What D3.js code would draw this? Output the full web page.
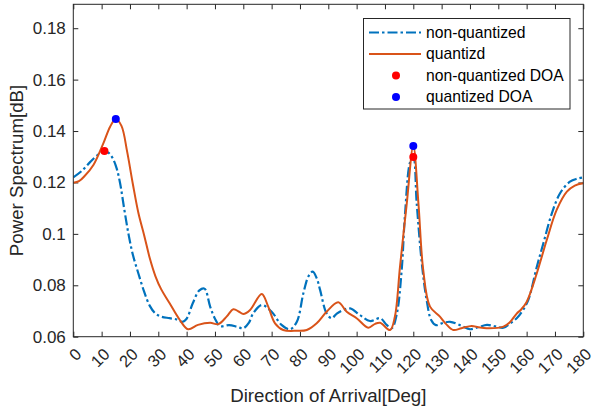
<!DOCTYPE html>
<html>
<head>
<meta charset="utf-8">
<script src="https://cdn.jsdelivr.net/npm/d3@7"></script>
<style>
  html, body { margin: 0; padding: 0; background: #fff; }
  svg { display: block; font-family: "Liberation Sans", Arial, sans-serif; }
</style>
</head>
<body>
<svg id="chart" width="594" height="409"></svg>
<script>
// Direction-of-arrival spectrum, non-quantized vs quantized
const nonQuantDeg = [0, 3, 6, 9, 11, 12.5, 14, 15.3, 16.5, 18, 19.5, 21, 23, 25, 27, 29, 31, 34, 36.5, 38.5, 40, 42.2, 44.5, 46.3, 48.3, 50, 51.8, 55, 58, 60, 62, 63.5, 66.5, 70, 73.5, 76.5, 78.9, 81.2, 83, 84.5, 86, 87.1, 89.4, 91.2, 93, 95.3, 97.7, 101.2, 104.7, 108.3, 110.6, 112.4, 114.2, 115.9, 117.1, 118.9, 120, 121.2, 123, 124.7, 126.3, 128, 130, 133, 137, 140, 143, 146, 149, 151.8, 154, 156.5, 158.5, 160.6, 163.6, 165.9, 168.9, 171.8, 175.3, 178, 180];
const nonQuantPow = [0.1220, 0.1245, 0.1280, 0.1310, 0.1322, 0.1315, 0.1292, 0.1255, 0.1198, 0.1095, 0.0998, 0.0920, 0.0845, 0.0775, 0.0720, 0.0690, 0.0678, 0.0672, 0.0667, 0.0658, 0.0670, 0.0731, 0.0780, 0.0787, 0.0717, 0.0670, 0.0641, 0.0645, 0.0638, 0.0633, 0.0655, 0.0691, 0.0723, 0.0697, 0.0646, 0.0629, 0.0658, 0.0769, 0.0835, 0.0853, 0.0825, 0.0782, 0.0691, 0.0672, 0.0690, 0.0704, 0.0710, 0.0684, 0.0661, 0.0672, 0.0646, 0.0633, 0.0690, 0.0860, 0.1080, 0.1280, 0.1299, 0.1119, 0.0886, 0.0743, 0.0665, 0.0645, 0.0652, 0.0658, 0.0642, 0.0629, 0.0637, 0.0646, 0.0640, 0.0635, 0.0650, 0.0672, 0.0700, 0.0743, 0.0872, 0.0963, 0.1080, 0.1158, 0.1203, 0.1215, 0.1220];

const quantDeg = [0, 2, 4, 7.1, 10.6, 13, 15, 17, 19, 21, 23, 25, 27, 29, 31, 34, 37.6, 40.5, 44, 48.3, 51.2, 54.1, 56.5, 58.5, 60, 62.4, 66.5, 68.8, 71.2, 74.1, 78.9, 82.4, 85.9, 89.4, 93.5, 96.5, 100, 104.1, 106.5, 108.3, 111.8, 113.5, 115.3, 117.7, 120, 121.8, 123.5, 125.9, 129.4, 131.5, 134.1, 137, 140.6, 143, 145.9, 151.8, 154, 156.5, 158, 160, 163.6, 167.1, 170.6, 174.2, 177, 180];
const quantPow = [0.1199, 0.1205, 0.1225, 0.1268, 0.1352, 0.1417, 0.1447, 0.1420, 0.1320, 0.1195, 0.1080, 0.0995, 0.0905, 0.0835, 0.0785, 0.0730, 0.0665, 0.0629, 0.0646, 0.0654, 0.0649, 0.0678, 0.0707, 0.0697, 0.0688, 0.0704, 0.0766, 0.0717, 0.0652, 0.0626, 0.0623, 0.0626, 0.0652, 0.0697, 0.0734, 0.0697, 0.0672, 0.0635, 0.0650, 0.0654, 0.0626, 0.0678, 0.0872, 0.1119, 0.1342, 0.1120, 0.0860, 0.0717, 0.0678, 0.0650, 0.0626, 0.0633, 0.0642, 0.0637, 0.0633, 0.0639, 0.0655, 0.0690, 0.0705, 0.0735, 0.0847, 0.0976, 0.1093, 0.1164, 0.1188, 0.1197];

// Estimated directions of arrival (peaks)
const nonQuantDoaDeg = [11, 120];
const nonQuantDoaPow = [0.1322, 0.1299];
const quantDoaDeg = [15, 120];
const quantDoaPow = [0.1447, 0.1342];

const xTicks = [0, 10, 20, 30, 40, 50, 60, 70, 80, 90, 100, 110, 120, 130, 140, 150, 160, 170, 180];
const yTicks = [0.06, 0.08, 0.1, 0.12, 0.14, 0.16, 0.18];
const yTickLabels = ["0.06", "0.08", "0.1", "0.12", "0.14", "0.16", "0.18"];

const legendLabels = ["non-quantized", "quantizd", "non-quantized DOA", "quantized DOA"];

const colors = {
  nonQuant: "#0072BD",
  quant: "#D95319",
  nonQuantDoa: "#FF0000",
  quantDoa: "#0000FF",
  axis: "#262626"
};

const margin = { left: 73.3, right: 594 - 583.3, top: 4.3, bottom: 409 - 336.7 };
const W = 594, H = 409;

const svg = d3.select("#chart");

const x = d3.scaleLinear().domain([0, 180]).range([margin.left, W - margin.right]);
const y = d3.scaleLinear().domain([0.06, 0.1893]).range([H - margin.bottom, margin.top]);

const x0 = x.range()[0], x1 = x.range()[1];
const y0 = y.range()[0], y1 = y.range()[1];

svg.append("defs").append("clipPath").attr("id", "plotClip")
  .append("rect").attr("x", x0).attr("y", y1).attr("width", x1 - x0).attr("height", y0 - y1);

// Axes with inward ticks on all four sides
const tickLen = 5;
const bottomAxis = d3.axisBottom(x).tickValues(xTicks).tickSizeInner(-tickLen).tickSizeOuter(0).tickFormat("");
const topAxis = d3.axisTop(x).tickValues(xTicks).tickSizeInner(-tickLen).tickSizeOuter(0).tickFormat("");
const leftAxis = d3.axisLeft(y).tickValues(yTicks).tickSizeInner(-tickLen).tickSizeOuter(0).tickFormat("");
const rightAxis = d3.axisRight(y).tickValues(yTicks).tickSizeInner(-tickLen).tickSizeOuter(0).tickFormat("");

function styleAxis(g) {
  g.select(".domain").remove();
  g.selectAll(".tick line").attr("stroke", colors.axis).attr("stroke-width", 1);
}
svg.append("g").attr("transform", `translate(0,${y0})`).call(bottomAxis).call(styleAxis);
svg.append("g").attr("transform", `translate(0,${y1})`).call(topAxis).call(styleAxis);
svg.append("g").attr("transform", `translate(${x0},0)`).call(leftAxis).call(styleAxis);
svg.append("g").attr("transform", `translate(${x1},0)`).call(rightAxis).call(styleAxis);

// Tick labels
svg.append("g").selectAll("text").data(yTicks).join("text")
  .attr("x", x0 - 7.5)
  .attr("y", d => y(d))
  .attr("dy", "0.35em")
  .attr("text-anchor", "end")
  .attr("font-size", 17)
  .attr("fill", colors.axis)
  .text((d, i) => yTickLabels[i]);

svg.append("g").selectAll("text").data(xTicks).join("text")
  .attr("transform", d => `translate(${x(d) + 5},${y0 + 14.5}) rotate(-45)`)
  .attr("dy", "0.35em")
  .attr("text-anchor", "end")
  .attr("font-size", 16.5)
  .attr("fill", colors.axis)
  .text(d => d);

// Axis titles
svg.append("text")
  .attr("x", (x0 + x1) / 2).attr("y", 401.5)
  .attr("text-anchor", "middle").attr("font-size", 18.7).attr("fill", colors.axis)
  .text("Direction of Arrival[Deg]");

svg.append("text")
  .attr("transform", `translate(22.5,${(y0 + y1) / 2}) rotate(-90)`)
  .attr("text-anchor", "middle").attr("font-size", 18.7).attr("fill", colors.axis)
  .text("Power Spectrum[dB]");

// Spectrum curves
const line = d3.line().x(d => x(d[0])).y(d => y(d[1])).curve(d3.curveCatmullRom.alpha(0.5));
const plot = svg.append("g").attr("clip-path", "url(#plotClip)");

plot.append("path")
  .datum(d3.zip(nonQuantDeg, nonQuantPow))
  .attr("d", line).attr("fill", "none")
  .attr("stroke", colors.nonQuant).attr("stroke-width", 2.2)
  .attr("stroke-dasharray", "10,3,2.5,3");

plot.append("path")
  .datum(d3.zip(quantDeg, quantPow))
  .attr("d", line).attr("fill", "none")
  .attr("stroke", colors.quant).attr("stroke-width", 2);

// DOA markers
svg.append("g").selectAll("circle").data(d3.zip(nonQuantDoaDeg, nonQuantDoaPow)).join("circle")
  .attr("cx", d => x(d[0])).attr("cy", d => y(d[1])).attr("r", 4)
  .attr("fill", colors.nonQuantDoa);
svg.append("g").selectAll("circle").data(d3.zip(quantDoaDeg, quantDoaPow)).join("circle")
  .attr("cx", d => x(d[0])).attr("cy", d => y(d[1])).attr("r", 4)
  .attr("fill", colors.quantDoa);

// Plot box
svg.append("rect")
  .attr("x", x0).attr("y", y1).attr("width", x1 - x0).attr("height", y0 - y1)
  .attr("fill", "none").attr("stroke", colors.axis).attr("stroke-width", 1);

// Legend
const leg = svg.append("g");
leg.append("rect")
  .attr("x", 363.5).attr("y", 18.5).attr("width", 206.5).attr("height", 90.5)
  .attr("fill", "#fff").attr("stroke", colors.axis).attr("stroke-width", 1);
const rowY = [32.5, 54, 75.5, 97];
leg.append("line").attr("x1", 369).attr("x2", 421).attr("y1", rowY[0]).attr("y2", rowY[0])
  .attr("stroke", colors.nonQuant).attr("stroke-width", 2.2).attr("stroke-dasharray", "10,3,2.5,3");
leg.append("line").attr("x1", 369).attr("x2", 421).attr("y1", rowY[1]).attr("y2", rowY[1])
  .attr("stroke", colors.quant).attr("stroke-width", 2);
leg.append("circle").attr("cx", 396).attr("cy", rowY[2]).attr("r", 4).attr("fill", colors.nonQuantDoa);
leg.append("circle").attr("cx", 396).attr("cy", rowY[3]).attr("r", 4).attr("fill", colors.quantDoa);
leg.selectAll("text.lab").data(legendLabels).join("text")
  .attr("class", "lab")
  .attr("x", 426).attr("y", (d, i) => rowY[i]).attr("dy", "0.35em")
  .attr("font-size", 15.7).attr("fill", "#000")
  .text(d => d);
</script>
</body>
</html>
